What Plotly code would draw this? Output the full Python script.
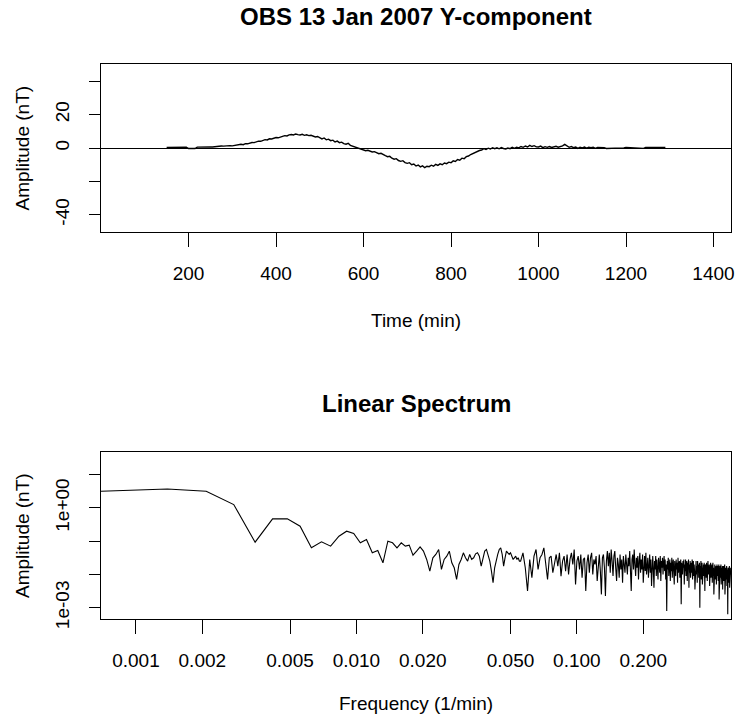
import plotly.graph_objects as go

# ---------------------------------------------------------------------------
# OBS magnetometer, 13 Jan 2007, Y-component (nT), sampled every 5 minutes
# starting at minute 150 of the day.
# ---------------------------------------------------------------------------
t_start_min = 150
t_step_min = 5
y_component_nT = [
    0.4, 0.4, 0.5, 0.4, 0.4, 0.5, 0.4, 0.4, 0.4, 0.5,          # 150-195
    -0.3, -0.4, -0.3, -0.3, 0.5, 0.6, 0.5, 0.6, 0.6, 0.7,      # 200-245
    0.7, 0.6, 0.8, 0.9, 1.0, 1.2, 1.1, 1.3, 1.2, 1.4,          # 250-295
    1.3, 1.6, 1.5, 1.9, 2.2, 2.0, 2.6, 2.5, 3.0, 3.3,          # 300-345
    3.2, 3.8, 4.1, 4.0, 4.6, 5.0, 4.8, 5.5, 5.4, 6.0,          # 350-395
    6.3, 6.1, 6.8, 7.0, 7.4, 7.2, 7.9, 8.1, 7.8, 8.4,          # 400-445
    8.0, 7.8, 8.2, 7.6, 7.9, 7.4, 7.6, 7.1, 6.6, 6.9,          # 450-495
    6.2, 5.4, 6.0, 4.9, 5.3, 4.4, 4.7, 3.6, 4.1, 3.2,          # 500-545
    3.5, 2.6, 2.3, 2.8, 1.6, 1.2, 0.8, 0.2, -0.3, -0.6,        # 550-595
    -1.0, -1.6, -1.4, -2.1, -2.4, -2.2, -3.0, -3.4, -3.2, -4.1,  # 600-645
    -4.6, -5.2, -5.0, -6.1, -6.7, -6.4, -7.5, -8.0, -7.6, -8.7,  # 650-695
    -9.2, -8.8, -10.0, -9.6, -10.8, -10.2, -11.3, -10.7, -11.8, -10.9,  # 700-745
    -11.2, -10.3, -10.9, -9.8, -10.4, -9.5, -10.0, -9.0, -9.4, -8.5,    # 750-795
    -8.8, -7.7, -8.1, -6.9, -7.3, -6.1, -6.4, -5.2, -4.8, -3.9,  # 800-845
    -3.2, -2.4, -2.0, -1.5, -1.2, -0.4, -0.9, -0.1, -0.6, 0.2,   # 850-895
    -0.4, 0.1, -0.5, 0.3, -0.3, -0.6, 0.0, -0.4, 0.4, -0.2,      # 900-945
    0.5, 0.1, 0.9, 0.4, 1.2, 0.6, 1.6, 0.9, 1.4, 0.7,            # 950-995
    0.6, 1.1, 0.2, 0.8, 0.4, 0.9, 0.3, 0.7, 1.0, 0.5,            # 1000-1045
    0.8, 1.3, 2.2, 1.0, 0.4, 0.9, 0.2, 0.6, -0.2, 0.5,           # 1050-1095
    0.1, 0.6, -0.1, 0.4, 0.2, 0.5, -0.2, 0.3, 0.3, 0.0,          # 1100-1145
    0.2, -0.3, -0.3, -0.2, -0.3, 0.1, 0.1, 0.0, 0.1, 0.1,        # 1150-1195
    0.4, 0.3, 0.4, 0.4, 0.2, -0.1, -0.2, -0.1, -0.2, 0.3,        # 1200-1245
    0.3, 0.3, 0.3, 0.3, 0.3, 0.2, 0.3, 0.3, 0.3,                 # 1250-1290
]
time_min = [t_start_min + t_step_min * i for i in range(len(y_component_nT))]

# ---------------------------------------------------------------------------
# Linear amplitude spectrum: harmonic index k (frequency = k / 1440 1/min)
# and log10 of the amplitude in nT.
# ---------------------------------------------------------------------------
day_minutes = 1440
spec_index = list(range(1, 81)) + list(range(82, 721, 2))
spec_log10_nT = [
    # k = 1 .. 80
    0.50, 0.57, 0.50, 0.10, -1.03, -0.33, -0.33, -0.55, -1.20, -1.02,
    -1.15, -0.85, -0.70, -0.77, -1.05, -0.95, -1.35, -1.28, -1.65, -1.00,
    -1.05, -1.20, -1.05, -1.15, -1.12, -1.42, -1.30, -1.17, -1.30, -1.55,
    -1.90, -1.50, -1.40, -1.25, -1.85, -1.55, -1.45, -1.30, -1.65, -1.80,
    -2.15, -1.70, -1.55, -1.35, -1.50, -1.60, -1.40, -1.55, -1.50, -1.38,
    -1.35, -1.45, -1.75, -1.50, -1.30, -1.25, -1.45, -1.60, -1.90, -2.25,
    -1.80, -1.55, -1.40, -1.25, -1.20, -1.40, -1.75, -1.50, -1.30, -1.35,
    -1.40, -1.35, -1.45, -1.55, -1.50, -1.45, -1.55, -1.50, -1.60, -1.60,
    # k = 82 .. 200, every 2nd
    -1.35, -1.80, -2.50, -1.55, -2.10, -1.45, -1.25, -1.85, -1.50, -1.40,
    -1.20, -1.75, -2.15, -1.50, -1.45, -1.95, -1.60, -1.40, -1.75, -1.35,
    -2.05, -1.60, -1.45, -1.90, -1.40, -2.00, -1.55, -1.35, -1.70, -1.25,
    -2.30, -1.60, -1.45, -1.85, -1.40, -2.10, -1.55, -1.50, -2.50, -1.65,
    -1.40, -1.95, -1.50, -1.35, -2.00, -1.55, -1.70, -1.45, -2.20, -1.60,
    -1.40, -1.90, -2.60, -1.50, -1.40, -1.80, -2.65, -1.60, -1.30, -1.75,
    # k = 202 .. 720, every 2nd
    -1.35, -1.95, -1.25, -1.60, -2.05, -1.45, -1.30, -1.80, -2.20, -1.50,
    -1.70, -2.10, -1.40, -1.85, -1.55, -2.25, -1.45, -1.70, -1.95, -1.40,
    -1.65, -2.00, -1.50, -1.75, -1.30, -1.90, -2.50, -1.55, -1.40, -1.85,
    -1.25, -1.70, -2.05, -1.50, -1.80, -1.45, -2.15, -1.60, -1.35, -1.95,
    -1.55, -1.85, -1.40, -2.25, -1.65, -1.45, -1.90, -1.35, -2.00, -1.60,
    -1.50, -2.10, -1.70, -1.40, -1.95, -1.55, -2.35, -1.65, -1.45, -1.85,
    -2.40, -1.60, -1.85, -1.45, -2.05, -1.55, -1.75, -2.15, -1.50, -1.70,
    -1.95, -1.45, -2.20, -1.60, -1.80, -1.50, -2.00, -1.65, -1.45, -1.90,
    -1.55, -2.15, -1.70, -3.10, -1.60, -1.85, -1.50, -2.05, -1.75, -1.55,
    -2.20, -1.65, -1.90, -1.50, -2.10, -1.70, -1.55, -1.95, -2.30, -1.60,
    -1.75, -2.05, -1.55, -1.85, -1.65, -2.25, -1.50, -1.95, -1.70, -1.60,
    -2.10, -1.75, -1.55, -2.90, -1.65, -1.85, -2.00, -1.60, -1.80, -1.55,
    -2.30, -1.70, -1.90, -1.55, -2.05, -1.75, -1.60, -2.20, -1.65, -1.85,
    -1.55, -2.40, -1.70, -1.95, -1.60, -2.10, -1.80, -1.65, -1.95, -1.55,
    -2.15, -1.75, -1.60, -2.05, -1.70, -1.90, -2.45, -1.65, -1.85, -1.60,
    -2.00, -1.75, -2.25, -1.60, -1.90, -1.70, -2.10, -1.80, -1.65, -3.00,
    -1.75, -1.95, -1.60, -2.15, -1.80, -1.65, -2.30, -1.75, -1.90, -1.70,
    -2.05, -1.65, -1.85, -2.50, -1.70, -1.95, -1.75, -2.10, -1.65, -1.85,
    -2.20, -1.75, -1.60, -2.00, -1.80, -1.95, -1.70, -2.35, -1.75, -1.90,
    -1.65, -2.10, -1.80, -1.95, -1.70, -2.25, -1.85, -1.65, -2.05, -1.80,
    -2.60, -1.75, -1.90, -1.70, -2.15, -1.80, -2.00, -1.75, -2.30, -1.85,
    -1.70, -2.05, -1.85, -1.75, -2.20, -1.90, -1.70, -2.75, -1.80, -1.95,
    -1.75, -2.10, -1.85, -1.70, -2.30, -1.90, -1.80, -2.05, -1.75, -2.45,
    -1.85, -1.95, -1.75, -2.20, -1.80, -2.00, -1.70, -2.60, -1.85, -1.95,
    -1.80, -2.15, -1.90, -1.75, -2.35, -1.85, -2.05, -3.20, -1.80, -2.00,
    -1.85, -2.25, -1.90, -1.75, -2.40, -1.95, -1.85, -2.10, -1.80, -2.00,
]
spec_freq = [k / day_minutes for k in spec_index]
spec_amp_nT = [10 ** v for v in spec_log10_nT]

# Axis ticks
time_ticks = [200, 400, 600, 800, 1000, 1200, 1400]
amp_ticks = [-40, -20, 0, 20, 40]
amp_tick_text = ["-40", "", "0", "20", ""]
freq_ticks = [0.001, 0.002, 0.005, 0.01, 0.02, 0.05, 0.1, 0.2]
freq_tick_text = ["0.001", "0.002", "0.005", "0.010", "0.020", "0.050", "0.100", "0.200"]
spec_ticks = [1e-3, 1e-2, 1e-1, 1e0, 1e1]
spec_tick_text = ["1e-03", "", "", "1e+00", ""]

FONT = "Liberation Sans, Arial, sans-serif"
TICK_FONT = dict(family=FONT, size=19, color="black")

fig = go.Figure()
fig.add_trace(go.Scatter(
    x=time_min, y=y_component_nT, mode="lines",
    line=dict(color="black", width=1.4), xaxis="x", yaxis="y", showlegend=False,
))
fig.add_trace(go.Scatter(
    x=spec_freq, y=spec_amp_nT, mode="lines",
    line=dict(color="black", width=1.1), xaxis="x2", yaxis="y2", showlegend=False,
))

axis_common = dict(
    showgrid=False, showline=True, mirror=True, linecolor="black", linewidth=1,
    ticks="outside", tickcolor="black", tickwidth=1, tickfont=TICK_FONT,
)

fig.update_layout(
    width=740, height=717,
    margin=dict(l=101, r=5, t=64, b=98),
    paper_bgcolor="white", plot_bgcolor="white",
    font=dict(family=FONT, color="black"),
    xaxis=dict(domain=[0, 1], anchor="y", range=[0, 1440],
               tickvals=time_ticks, ticklen=14, ticklabelstandoff=10,
               zeroline=False, **axis_common),
    yaxis=dict(domain=[0.6973, 1], anchor="x", range=[-50.3, 50.3],
               tickvals=amp_ticks, ticktext=amp_tick_text, tickangle=-90,
               ticklen=11, ticklabelstandoff=12,
               zeroline=True, zerolinecolor="black", zerolinewidth=1,
               **axis_common),
    xaxis2=dict(domain=[0, 1], anchor="y2", type="log",
                range=[-3.1584, -0.30103],
                tickvals=freq_ticks, ticktext=freq_tick_text,
                ticklen=14, ticklabelstandoff=10, **axis_common),
    yaxis2=dict(domain=[0, 0.3009], anchor="x2", type="log",
                range=[-3.34, 1.68],
                tickvals=spec_ticks, ticktext=spec_tick_text, tickangle=-90,
                ticklen=11, ticklabelstandoff=12, **axis_common),
)

annotations = [
    dict(text="<b>OBS 13 Jan 2007 Y-component</b>", x=0.5, y=1.0847,
         font=dict(family=FONT, size=24)),
    dict(text="<b>Linear Spectrum</b>", x=0.5, y=0.3874,
         font=dict(family=FONT, size=24)),
    dict(text="Time (min)", x=0.5, y=0.5387, font=dict(family=FONT, size=19)),
    dict(text="Frequency (1/min)", x=0.5, y=-0.1514, font=dict(family=FONT, size=19)),
    dict(text="Amplitude (nT)", x=-0.1246, y=0.8486, textangle=-90,
         font=dict(family=FONT, size=19)),
    dict(text="Amplitude (nT)", x=-0.1246, y=0.1505, textangle=-90,
         font=dict(family=FONT, size=19)),
]
for a in annotations:
    a.update(xref="paper", yref="paper", showarrow=False,
             xanchor="center", yanchor="middle")
fig.update_layout(annotations=annotations)

fig.write_html("out.html")
